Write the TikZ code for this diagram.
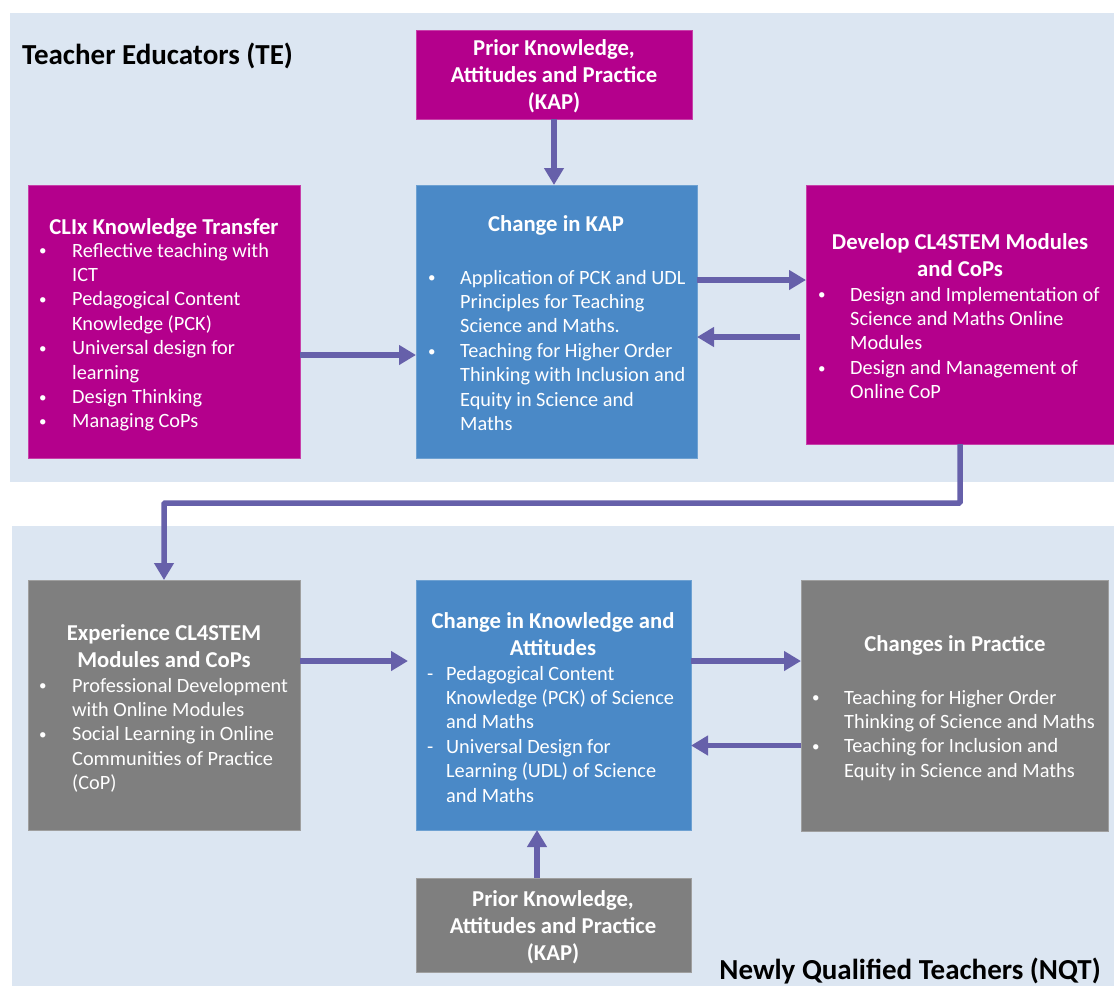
\documentclass[tikz,border=0pt]{standalone}
\usepackage{fontspec}
\setmainfont{Carlito}
\usetikzlibrary{arrows.meta}
\definecolor{panelbg}{HTML}{DCE6F2}
\definecolor{magbox}{HTML}{B4008C}
\definecolor{bluebox}{HTML}{4A89C7}
\definecolor{graybox}{HTML}{7F7F7F}
\definecolor{arrowc}{HTML}{6660AA}
\newcommand\bodyfnt{\fontsize{20.3}{24.4}\selectfont}
\newcommand\ttlfnt{\fontsize{22.7}{27.2}\selectfont\bfseries}
\newcommand\hdfnt{\fontsize{29}{34}\selectfont\bfseries}
\newcommand\bul{\raisebox{1.2pt}{\fontsize{15}{15}\selectfont\textbullet}}
\begin{document}
\begin{tikzpicture}[x=1pt,y=-1pt,
  box/.style={anchor=north west, inner sep=0, outer sep=0, line width=0.8pt},
  magb/.style={box, fill=magbox, draw=magbox!75!white},
  blueb/.style={box, fill=bluebox, draw=bluebox!80!white},
  grayb/.style={box, fill=graybox, draw=graybox!75!white},
  txt/.style={inner sep=0, text=white, anchor=base west, font=\bodyfnt},
  ttl/.style={inner sep=0, text=white, anchor=base, font=\ttlfnt},
  hd/.style={inner sep=0, text=black, font=\hdfnt},
  arr/.style={draw=arrowc, line width=5.5pt, -{Triangle[length=17pt,width=19pt]}}
]
\useasboundingbox (0,0) rectangle (1114,986);
\fill[white] (0,0) rectangle (1114,986);
% panels
\fill[panelbg] (10,13) rectangle (1114,482);
\fill[panelbg] (12,526) rectangle (1114,986);

\node[hd, anchor=base west] (te) at (22,64) {Teacher Educators (TE)};
\node[hd, anchor=base east] (nqt) at (1101,979) {Newly Qualified Teachers (NQT)};

% ---------- top row boxes
\node[magb, minimum width=276, minimum height=89] (kap1) at (416,30) {};
\node[ttl] (kap1t) at (554,55) {\begin{tabular}[t]{@{}c@{}}Prior Knowledge,\\ Attitudes and Practice\\ (KAP)\end{tabular}};

\node[magb, minimum width=272, minimum height=273] (clix) at (28,185) {};
\node[ttl] (clixt) at (164,234) {CLIx Knowledge Transfer};
\node[txt] (clixl) at (39,257) {\begin{tabular}[t]{@{}p{33pt}@{}l@{}}
\bul & Reflective teaching with\\ & ICT\\
\bul & Pedagogical Content\\ & Knowledge (PCK)\\
\bul & Universal design for\\ & learning\\
\bul & Design Thinking\\
\bul & Managing CoPs\end{tabular}};

\node[blueb, minimum width=281, minimum height=273] (ckap) at (416,185) {};
\node[ttl] (ckapt) at (556,231) {Change in KAP};
\node[txt] (ckapl) at (428,284) {\begin{tabular}[t]{@{}p{32pt}@{}l@{}}
\bul & Application of PCK and UDL\\ & Principles for Teaching\\ & Science and Maths.\\
\bul & Teaching for Higher Order\\ & Thinking with Inclusion and\\ & Equity in Science and\\ & Maths\end{tabular}};

\node[magb, minimum width=308, minimum height=259] (dev) at (806,185) {};
\node[ttl] (devt) at (960,249) {\begin{tabular}[t]{@{}c@{}}Develop CL4STEM Modules\\ and CoPs\end{tabular}};
\node[txt] (devl) at (818,301) {\begin{tabular}[t]{@{}p{32pt}@{}l@{}}
\bul & Design and Implementation of\\ & Science and Maths Online\\ & Modules\\
\bul & Design and Management of\\ & Online CoP\end{tabular}};

% ---------- bottom row boxes
\node[grayb, minimum width=272, minimum height=250] (exp) at (28,580) {};
\node[ttl] (expt) at (164,640) {\begin{tabular}[t]{@{}c@{}}Experience CL4STEM\\ Modules and CoPs\end{tabular}};
\node[txt] (expl) at (39,692) {\begin{tabular}[t]{@{}p{33pt}@{}l@{}}
\bul & Professional Development\\ & with Online Modules\\
\bul & Social Learning in Online\\ & Communities of Practice\\ & (CoP)\end{tabular}};

\node[blueb, minimum width=275, minimum height=250] (cka) at (416,580) {};
\node[ttl] (ckat) at (553,628) {\begin{tabular}[t]{@{}c@{}}Change in Knowledge and\\ Attitudes\end{tabular}};
\node[txt] (ckal) at (427,680) {\begin{tabular}[t]{@{}p{19pt}@{}l@{}}
- & Pedagogical Content\\ & Knowledge (PCK) of Science\\ & and Maths\\
- & Universal Design for\\ & Learning (UDL) of Science\\ & and Maths\end{tabular}};

\node[grayb, minimum width=307, minimum height=251] (prac) at (801,580) {};
\node[ttl] (pract) at (955,651) {Changes in Practice};
\node[txt] (pracl) at (812,704) {\begin{tabular}[t]{@{}p{32pt}@{}l@{}}
\bul & Teaching for Higher Order\\ & Thinking of Science and Maths\\
\bul & Teaching for Inclusion and\\ & Equity in Science and Maths\end{tabular}};

\node[grayb, minimum width=275, minimum height=94] (kap2) at (416,878) {};
\node[ttl] (kap2t) at (553,906) {\begin{tabular}[t]{@{}c@{}}Prior Knowledge,\\ Attitudes and Practice\\ (KAP)\end{tabular}};

% ---------- connectors
\draw[arr] (kap1.south) -- (kap1.south |- ckap.north);

\coordinate (a1) at ([yshift=-33.5pt]clix.east);
\draw[arr] (a1) -- (a1 -| ckap.west);

\coordinate (a2) at ([yshift=41.5pt]ckap.east);
\draw[arr] (a2) -- (a2 -| dev.west);
\coordinate (a3) at ([yshift=-22.5pt]dev.west);
\draw[arr] ([xshift=-6pt]a3) -- (a3 -| ckap.east);

\draw[arr, rounded corners=1pt] (dev.south) -- ++(0,59) -| (exp.north);

\coordinate (b1) at ([yshift=44pt]exp.east);
\draw[arr] (b1) -- ([xshift=-8pt]b1 -| cka.west);
\coordinate (b2) at ([yshift=44pt]cka.east);
\draw[arr] (b2) -- (b2 -| prac.west);
\coordinate (b3) at ([yshift=-40pt]prac.west);
\draw[arr] (b3) -- (b3 -| cka.east);

\coordinate (b4) at ([xshift=-16.5pt]kap2.north);
\draw[arr] (b4) -- (b4 |- cka.south);
\end{tikzpicture}
\end{document}
